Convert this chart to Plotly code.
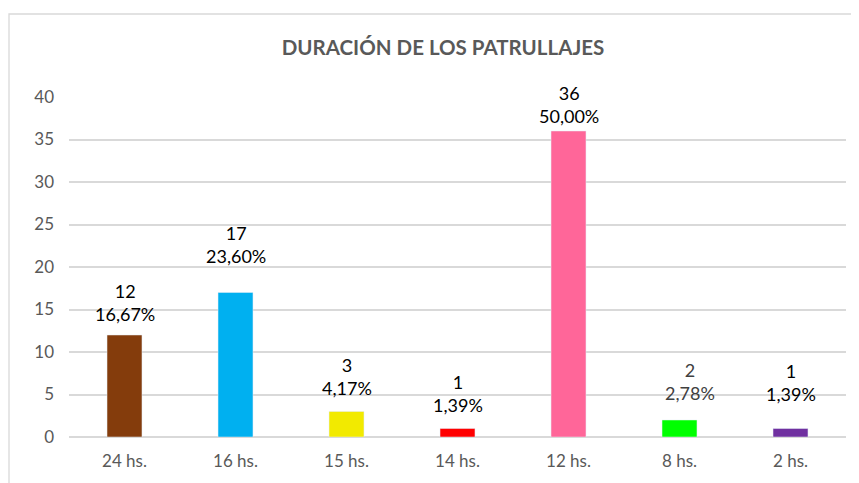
import plotly.graph_objects as go

categories = ["24 hs.", "16 hs.", "15 hs.", "14 hs.", "12 hs.", "8 hs.", "2 hs."]
counts = [12, 17, 3, 1, 36, 2, 1]
percents = ["16,67%", "23,60%", "4,17%", "1,39%", "50,00%", "2,78%", "1,39%"]
y_ticks = [0, 5, 10, 15, 20, 25, 30, 35, 40]

bar_colors = ["#843C0C", "#00B0F0", "#F2EA00", "#FF0000", "#FF6699", "#00FF00", "#7030A0"]
label_colors = ["#000000", "#000000", "#000000", "#000000", "#000000", "#404040", "#000000"]
label_yshift = [8, 24, 11, 11, 2, 14, 22]
label_xshift = [0, 0, 0, 0, 0, 10, 0]

# page body has an 8px default margin, so the figure is 8px smaller
W, H = 851, 475
ml, mr, mt, mb = 61, 13, 89, 46

fig = go.Figure(go.Bar(
    x=categories, y=counts, marker_color=bar_colors, width=0.315,
    hoverinfo="skip"))

for i, c in enumerate(categories):
    fig.add_annotation(
        x=c, y=counts[i], xref="x", yref="y",
        text=f"{counts[i]}<br>{percents[i]}", showarrow=False,
        yanchor="bottom", yshift=label_yshift[i], xshift=label_xshift[i],
        font=dict(family="Lato, sans-serif", size=18, color=label_colors[i]),
        align="center")

pw = W - ml - mr
ph = H - mt - mb
fig.add_shape(type="rect", xref="paper", yref="paper",
              x0=(1 - ml) / pw, x1=(W + 5 - ml) / pw,
              y0=-(mb + 5) / ph, y1=1 + (mt - 6) / ph,
              line=dict(color="#D9D9D9", width=1.3), fillcolor="rgba(0,0,0,0)", layer="below")

fig.update_layout(
    width=W, height=H,
    margin=dict(l=ml, r=mr, t=mt, b=mb),
    paper_bgcolor="white", plot_bgcolor="white",
    showlegend=False,
    title=dict(text="<b>DURACIÓN DE LOS PATRULLAJES</b>", x=435 / W, xanchor="center",
               y=1 - 40 / H, yanchor="middle", xref="container", yref="container",
               font=dict(family="Lato, sans-serif", size=20.5, color="#595959")),
    font=dict(family="Lato, sans-serif", size=17, color="#595959"),
    xaxis=dict(showgrid=False, showline=False, ticks="", ticklabelstandoff=12,
               tickfont=dict(size=17, color="#595959"), fixedrange=True),
    yaxis=dict(range=[0, 40], tickvals=y_ticks, showgrid=True, gridcolor="#D9D9D9",
               gridwidth=1.5, zeroline=True, zerolinecolor="#D9D9D9", zerolinewidth=1.5,
               showline=False, ticks="", ticklabelstandoff=14,
               tickfont=dict(size=17, color="#595959"), fixedrange=True),
)

fig.write_html("out.html")
